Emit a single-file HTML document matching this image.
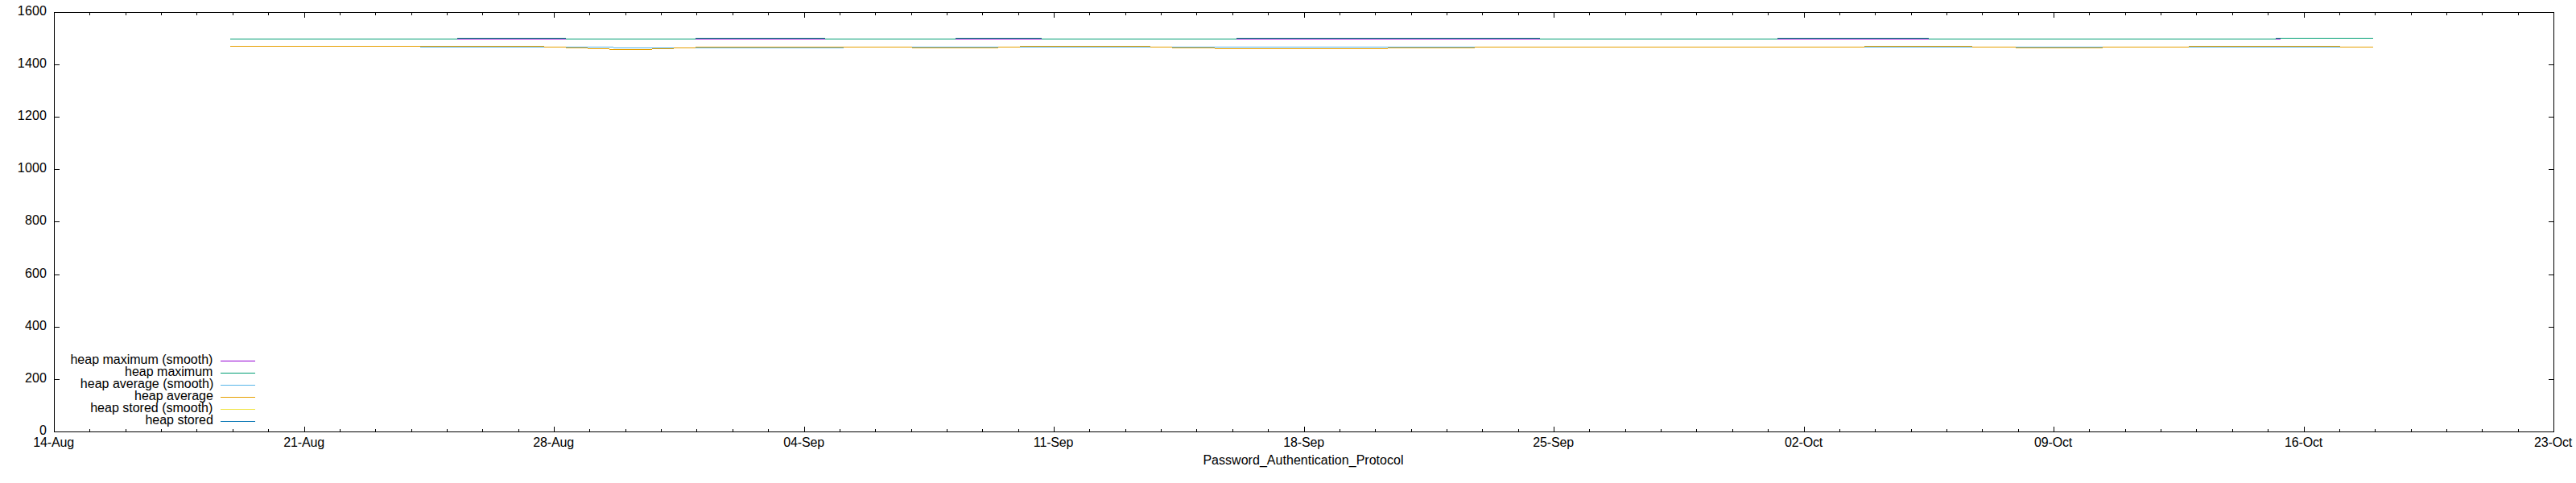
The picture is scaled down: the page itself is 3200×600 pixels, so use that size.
<!DOCTYPE html>
<html lang="en">
<head>
<meta charset="utf-8">
<title>Password_Authentication_Protocol</title>
<style>
html,body{margin:0;padding:0;background:#fff;overflow:hidden}
svg{display:block}
svg rect{shape-rendering:crispEdges}
svg text{font-family:"Liberation Sans",Arial,Helvetica,sans-serif;font-size:16px;fill:#000}
</style>
</head>
<body>
<svg width="3200" height="600" viewBox="0 0 3200 600">
<rect x="0" y="0" width="3200" height="600" fill="#fff"/>
<g id="heap-maximum-smooth">
<rect x="568" y="48" width="135" height="1" fill="#9400d3"/>
<rect x="864" y="48" width="161" height="1" fill="#9400d3"/>
<rect x="1187" y="48" width="107" height="1" fill="#9400d3"/>
<rect x="1536" y="48" width="377" height="1" fill="#9400d3"/>
<rect x="2208" y="48" width="188" height="1" fill="#9400d3"/>
<rect x="2827" y="48" width="6" height="1" fill="#9400d3"/>
</g>
<g id="heap-maximum">
<rect x="286" y="48" width="282" height="1" fill="#009e73"/>
<rect x="568" y="47" width="135" height="1" fill="#009e73"/>
<rect x="703" y="48" width="161" height="1" fill="#009e73"/>
<rect x="864" y="47" width="161" height="1" fill="#009e73"/>
<rect x="1025" y="48" width="162" height="1" fill="#009e73"/>
<rect x="1187" y="47" width="107" height="1" fill="#009e73"/>
<rect x="1294" y="48" width="242" height="1" fill="#009e73"/>
<rect x="1536" y="47" width="377" height="1" fill="#009e73"/>
<rect x="1913" y="48" width="295" height="1" fill="#009e73"/>
<rect x="2208" y="47" width="188" height="1" fill="#009e73"/>
<rect x="2396" y="48" width="431" height="1" fill="#009e73"/>
<rect x="2827" y="47" width="121" height="1" fill="#009e73"/>
</g>
<g id="heap-average-smooth">
<rect x="522" y="58" width="154" height="1" fill="#56b4e9"/>
<rect x="703" y="58" width="27" height="1" fill="#56b4e9"/>
<rect x="730" y="58" width="27" height="1" fill="#56b4e9"/>
<rect x="757" y="58" width="5" height="1" fill="#56b4e9"/>
<rect x="762" y="59" width="48" height="1" fill="#56b4e9"/>
<rect x="810" y="59" width="27" height="1" fill="#56b4e9"/>
<rect x="864" y="59" width="184" height="1" fill="#56b4e9"/>
<rect x="1133" y="58" width="107" height="1" fill="#56b4e9"/>
<rect x="1267" y="58" width="162" height="1" fill="#56b4e9"/>
<rect x="1456" y="58" width="53" height="1" fill="#56b4e9"/>
<rect x="1509" y="58" width="215" height="1" fill="#56b4e9"/>
<rect x="1724" y="58" width="108" height="1" fill="#56b4e9"/>
<rect x="2316" y="58" width="134" height="1" fill="#56b4e9"/>
<rect x="2504" y="58" width="108" height="1" fill="#56b4e9"/>
<rect x="2719" y="58" width="188" height="1" fill="#56b4e9"/>
</g>
<g id="heap-average">
<rect x="286" y="57" width="236" height="1" fill="#e69f00"/>
<rect x="522" y="57" width="154" height="1" fill="#e69f00"/>
<rect x="676" y="58" width="27" height="1" fill="#e69f00"/>
<rect x="703" y="59" width="27" height="1" fill="#e69f00"/>
<rect x="730" y="60" width="27" height="1" fill="#e69f00"/>
<rect x="757" y="61" width="5" height="1" fill="#e69f00"/>
<rect x="762" y="61" width="48" height="1" fill="#e69f00"/>
<rect x="810" y="60" width="27" height="1" fill="#e69f00"/>
<rect x="837" y="59" width="27" height="1" fill="#e69f00"/>
<rect x="864" y="58" width="184" height="1" fill="#e69f00"/>
<rect x="1048" y="58" width="85" height="1" fill="#e69f00"/>
<rect x="1133" y="59" width="107" height="1" fill="#e69f00"/>
<rect x="1240" y="58" width="27" height="1" fill="#e69f00"/>
<rect x="1267" y="57" width="162" height="1" fill="#e69f00"/>
<rect x="1429" y="58" width="27" height="1" fill="#e69f00"/>
<rect x="1456" y="59" width="53" height="1" fill="#e69f00"/>
<rect x="1509" y="60" width="215" height="1" fill="#e69f00"/>
<rect x="1724" y="59" width="108" height="1" fill="#e69f00"/>
<rect x="1832" y="58" width="484" height="1" fill="#e69f00"/>
<rect x="2316" y="57" width="134" height="1" fill="#e69f00"/>
<rect x="2450" y="58" width="54" height="1" fill="#e69f00"/>
<rect x="2504" y="59" width="108" height="1" fill="#e69f00"/>
<rect x="2612" y="58" width="107" height="1" fill="#e69f00"/>
<rect x="2719" y="57" width="188" height="1" fill="#e69f00"/>
<rect x="2907" y="58" width="41" height="1" fill="#e69f00"/>
</g>
<g id="frame">
<rect x="67" y="15" width="3106" height="1" fill="#000"/>
<rect x="67" y="536" width="3106" height="1" fill="#000"/>
<rect x="67" y="15" width="1" height="522" fill="#000"/>
<rect x="3172" y="15" width="1" height="522" fill="#000"/>
<rect x="111" y="533" width="1" height="4" fill="#000"/>
<rect x="111" y="15" width="1" height="4" fill="#000"/>
<rect x="156" y="533" width="1" height="4" fill="#000"/>
<rect x="156" y="15" width="1" height="4" fill="#000"/>
<rect x="200" y="533" width="1" height="4" fill="#000"/>
<rect x="200" y="15" width="1" height="4" fill="#000"/>
<rect x="244" y="533" width="1" height="4" fill="#000"/>
<rect x="244" y="15" width="1" height="4" fill="#000"/>
<rect x="289" y="533" width="1" height="4" fill="#000"/>
<rect x="289" y="15" width="1" height="4" fill="#000"/>
<rect x="333" y="533" width="1" height="4" fill="#000"/>
<rect x="333" y="15" width="1" height="4" fill="#000"/>
<rect x="378" y="530" width="1" height="7" fill="#000"/>
<rect x="378" y="15" width="1" height="7" fill="#000"/>
<rect x="422" y="533" width="1" height="4" fill="#000"/>
<rect x="422" y="15" width="1" height="4" fill="#000"/>
<rect x="466" y="533" width="1" height="4" fill="#000"/>
<rect x="466" y="15" width="1" height="4" fill="#000"/>
<rect x="511" y="533" width="1" height="4" fill="#000"/>
<rect x="511" y="15" width="1" height="4" fill="#000"/>
<rect x="555" y="533" width="1" height="4" fill="#000"/>
<rect x="555" y="15" width="1" height="4" fill="#000"/>
<rect x="599" y="533" width="1" height="4" fill="#000"/>
<rect x="599" y="15" width="1" height="4" fill="#000"/>
<rect x="644" y="533" width="1" height="4" fill="#000"/>
<rect x="644" y="15" width="1" height="4" fill="#000"/>
<rect x="688" y="530" width="1" height="7" fill="#000"/>
<rect x="688" y="15" width="1" height="7" fill="#000"/>
<rect x="732" y="533" width="1" height="4" fill="#000"/>
<rect x="732" y="15" width="1" height="4" fill="#000"/>
<rect x="777" y="533" width="1" height="4" fill="#000"/>
<rect x="777" y="15" width="1" height="4" fill="#000"/>
<rect x="821" y="533" width="1" height="4" fill="#000"/>
<rect x="821" y="15" width="1" height="4" fill="#000"/>
<rect x="865" y="533" width="1" height="4" fill="#000"/>
<rect x="865" y="15" width="1" height="4" fill="#000"/>
<rect x="910" y="533" width="1" height="4" fill="#000"/>
<rect x="910" y="15" width="1" height="4" fill="#000"/>
<rect x="954" y="533" width="1" height="4" fill="#000"/>
<rect x="954" y="15" width="1" height="4" fill="#000"/>
<rect x="999" y="530" width="1" height="7" fill="#000"/>
<rect x="999" y="15" width="1" height="7" fill="#000"/>
<rect x="1043" y="533" width="1" height="4" fill="#000"/>
<rect x="1043" y="15" width="1" height="4" fill="#000"/>
<rect x="1087" y="533" width="1" height="4" fill="#000"/>
<rect x="1087" y="15" width="1" height="4" fill="#000"/>
<rect x="1132" y="533" width="1" height="4" fill="#000"/>
<rect x="1132" y="15" width="1" height="4" fill="#000"/>
<rect x="1176" y="533" width="1" height="4" fill="#000"/>
<rect x="1176" y="15" width="1" height="4" fill="#000"/>
<rect x="1220" y="533" width="1" height="4" fill="#000"/>
<rect x="1220" y="15" width="1" height="4" fill="#000"/>
<rect x="1265" y="533" width="1" height="4" fill="#000"/>
<rect x="1265" y="15" width="1" height="4" fill="#000"/>
<rect x="1309" y="530" width="1" height="7" fill="#000"/>
<rect x="1309" y="15" width="1" height="7" fill="#000"/>
<rect x="1353" y="533" width="1" height="4" fill="#000"/>
<rect x="1353" y="15" width="1" height="4" fill="#000"/>
<rect x="1398" y="533" width="1" height="4" fill="#000"/>
<rect x="1398" y="15" width="1" height="4" fill="#000"/>
<rect x="1442" y="533" width="1" height="4" fill="#000"/>
<rect x="1442" y="15" width="1" height="4" fill="#000"/>
<rect x="1486" y="533" width="1" height="4" fill="#000"/>
<rect x="1486" y="15" width="1" height="4" fill="#000"/>
<rect x="1531" y="533" width="1" height="4" fill="#000"/>
<rect x="1531" y="15" width="1" height="4" fill="#000"/>
<rect x="1575" y="533" width="1" height="4" fill="#000"/>
<rect x="1575" y="15" width="1" height="4" fill="#000"/>
<rect x="1620" y="530" width="1" height="7" fill="#000"/>
<rect x="1620" y="15" width="1" height="7" fill="#000"/>
<rect x="1664" y="533" width="1" height="4" fill="#000"/>
<rect x="1664" y="15" width="1" height="4" fill="#000"/>
<rect x="1708" y="533" width="1" height="4" fill="#000"/>
<rect x="1708" y="15" width="1" height="4" fill="#000"/>
<rect x="1753" y="533" width="1" height="4" fill="#000"/>
<rect x="1753" y="15" width="1" height="4" fill="#000"/>
<rect x="1797" y="533" width="1" height="4" fill="#000"/>
<rect x="1797" y="15" width="1" height="4" fill="#000"/>
<rect x="1841" y="533" width="1" height="4" fill="#000"/>
<rect x="1841" y="15" width="1" height="4" fill="#000"/>
<rect x="1886" y="533" width="1" height="4" fill="#000"/>
<rect x="1886" y="15" width="1" height="4" fill="#000"/>
<rect x="1930" y="530" width="1" height="7" fill="#000"/>
<rect x="1930" y="15" width="1" height="7" fill="#000"/>
<rect x="1974" y="533" width="1" height="4" fill="#000"/>
<rect x="1974" y="15" width="1" height="4" fill="#000"/>
<rect x="2019" y="533" width="1" height="4" fill="#000"/>
<rect x="2019" y="15" width="1" height="4" fill="#000"/>
<rect x="2063" y="533" width="1" height="4" fill="#000"/>
<rect x="2063" y="15" width="1" height="4" fill="#000"/>
<rect x="2107" y="533" width="1" height="4" fill="#000"/>
<rect x="2107" y="15" width="1" height="4" fill="#000"/>
<rect x="2152" y="533" width="1" height="4" fill="#000"/>
<rect x="2152" y="15" width="1" height="4" fill="#000"/>
<rect x="2196" y="533" width="1" height="4" fill="#000"/>
<rect x="2196" y="15" width="1" height="4" fill="#000"/>
<rect x="2241" y="530" width="1" height="7" fill="#000"/>
<rect x="2241" y="15" width="1" height="7" fill="#000"/>
<rect x="2285" y="533" width="1" height="4" fill="#000"/>
<rect x="2285" y="15" width="1" height="4" fill="#000"/>
<rect x="2329" y="533" width="1" height="4" fill="#000"/>
<rect x="2329" y="15" width="1" height="4" fill="#000"/>
<rect x="2374" y="533" width="1" height="4" fill="#000"/>
<rect x="2374" y="15" width="1" height="4" fill="#000"/>
<rect x="2418" y="533" width="1" height="4" fill="#000"/>
<rect x="2418" y="15" width="1" height="4" fill="#000"/>
<rect x="2462" y="533" width="1" height="4" fill="#000"/>
<rect x="2462" y="15" width="1" height="4" fill="#000"/>
<rect x="2507" y="533" width="1" height="4" fill="#000"/>
<rect x="2507" y="15" width="1" height="4" fill="#000"/>
<rect x="2551" y="530" width="1" height="7" fill="#000"/>
<rect x="2551" y="15" width="1" height="7" fill="#000"/>
<rect x="2595" y="533" width="1" height="4" fill="#000"/>
<rect x="2595" y="15" width="1" height="4" fill="#000"/>
<rect x="2640" y="533" width="1" height="4" fill="#000"/>
<rect x="2640" y="15" width="1" height="4" fill="#000"/>
<rect x="2684" y="533" width="1" height="4" fill="#000"/>
<rect x="2684" y="15" width="1" height="4" fill="#000"/>
<rect x="2728" y="533" width="1" height="4" fill="#000"/>
<rect x="2728" y="15" width="1" height="4" fill="#000"/>
<rect x="2773" y="533" width="1" height="4" fill="#000"/>
<rect x="2773" y="15" width="1" height="4" fill="#000"/>
<rect x="2817" y="533" width="1" height="4" fill="#000"/>
<rect x="2817" y="15" width="1" height="4" fill="#000"/>
<rect x="2862" y="530" width="1" height="7" fill="#000"/>
<rect x="2862" y="15" width="1" height="7" fill="#000"/>
<rect x="2906" y="533" width="1" height="4" fill="#000"/>
<rect x="2906" y="15" width="1" height="4" fill="#000"/>
<rect x="2950" y="533" width="1" height="4" fill="#000"/>
<rect x="2950" y="15" width="1" height="4" fill="#000"/>
<rect x="2995" y="533" width="1" height="4" fill="#000"/>
<rect x="2995" y="15" width="1" height="4" fill="#000"/>
<rect x="3039" y="533" width="1" height="4" fill="#000"/>
<rect x="3039" y="15" width="1" height="4" fill="#000"/>
<rect x="3083" y="533" width="1" height="4" fill="#000"/>
<rect x="3083" y="15" width="1" height="4" fill="#000"/>
<rect x="3128" y="533" width="1" height="4" fill="#000"/>
<rect x="3128" y="15" width="1" height="4" fill="#000"/>
<rect x="67" y="471" width="7" height="1" fill="#000"/>
<rect x="3166" y="471" width="7" height="1" fill="#000"/>
<rect x="67" y="406" width="7" height="1" fill="#000"/>
<rect x="3166" y="406" width="7" height="1" fill="#000"/>
<rect x="67" y="341" width="7" height="1" fill="#000"/>
<rect x="3166" y="341" width="7" height="1" fill="#000"/>
<rect x="67" y="275" width="7" height="1" fill="#000"/>
<rect x="3166" y="275" width="7" height="1" fill="#000"/>
<rect x="67" y="210" width="7" height="1" fill="#000"/>
<rect x="3166" y="210" width="7" height="1" fill="#000"/>
<rect x="67" y="145" width="7" height="1" fill="#000"/>
<rect x="3166" y="145" width="7" height="1" fill="#000"/>
<rect x="67" y="80" width="7" height="1" fill="#000"/>
<rect x="3166" y="80" width="7" height="1" fill="#000"/>
</g>
<g id="ytics" letter-spacing="0.2">
<text x="58.2" y="540" text-anchor="end">0</text>
<text x="58.2" y="475" text-anchor="end">200</text>
<text x="58.2" y="410" text-anchor="end">400</text>
<text x="58.2" y="345" text-anchor="end">600</text>
<text x="58.2" y="279" text-anchor="end">800</text>
<text x="58.2" y="214" text-anchor="end">1000</text>
<text x="58.2" y="149" text-anchor="end">1200</text>
<text x="58.2" y="84" text-anchor="end">1400</text>
<text x="58.2" y="19" text-anchor="end">1600</text>
</g>
<g id="xtics" letter-spacing="-0.16">
<text x="66.6" y="555" text-anchor="middle">14-Aug</text>
<text x="377.6" y="555" text-anchor="middle">21-Aug</text>
<text x="687.6" y="555" text-anchor="middle">28-Aug</text>
<text x="998.6" y="555" text-anchor="middle">04-Sep</text>
<text x="1308.6" y="555" text-anchor="middle">11-Sep</text>
<text x="1619.6" y="555" text-anchor="middle">18-Sep</text>
<text x="1929.6" y="555" text-anchor="middle">25-Sep</text>
<text x="2240.6" y="555" text-anchor="middle">02-Oct</text>
<text x="2550.6" y="555" text-anchor="middle">09-Oct</text>
<text x="2861.6" y="555" text-anchor="middle">16-Oct</text>
<text x="3171.6" y="555" text-anchor="middle">23-Oct</text>
</g>
<text id="xlabel" x="1619.0" y="577" text-anchor="middle" letter-spacing="0.032">Password_Authentication_Protocol</text>
<g id="key">
<text x="264.4" y="452" text-anchor="end">heap maximum (smooth)</text>
<rect x="274" y="448" width="43" height="1" fill="#9400d3"/>
<text x="264.4" y="467" text-anchor="end">heap maximum</text>
<rect x="274" y="463" width="43" height="1" fill="#009e73"/>
<text x="265.3" y="482" text-anchor="end">heap average (smooth)</text>
<rect x="274" y="478" width="43" height="1" fill="#56b4e9"/>
<text x="264.9" y="497" text-anchor="end">heap average</text>
<rect x="274" y="493" width="43" height="1" fill="#e69f00"/>
<text x="264.3" y="512" text-anchor="end">heap stored (smooth)</text>
<rect x="274" y="508" width="43" height="1" fill="#f0e442"/>
<text x="264.9" y="527" text-anchor="end">heap stored</text>
<rect x="274" y="523" width="43" height="1" fill="#0072b2"/>
</g>
</svg>
</body>
</html>
